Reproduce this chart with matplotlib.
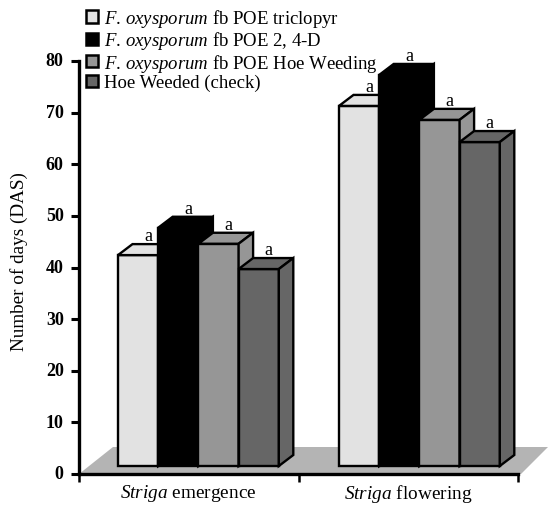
import matplotlib
matplotlib.use("Agg")
import matplotlib.pyplot as plt
from matplotlib.patches import Polygon, Patch
from matplotlib.transforms import ScaledTranslation

plt.rcParams['font.family'] = ['Liberation Serif', 'DejaVu Serif']
plt.rcParams['mathtext.fontset'] = 'custom'
plt.rcParams['mathtext.rm'] = 'Liberation Serif'
plt.rcParams['mathtext.it'] = 'Liberation Serif:italic'

# data
groups = ["$\\mathit{Striga}$ emergence", "$\\mathit{Striga}$ flowering"]
series = [
    "$\\mathit{F.}\\,\\mathit{oxysporum}$ fb POE triclopyr",
    "$\\mathit{F.}\\,\\mathit{oxysporum}$ fb POE 2, 4-D",
    "$\\mathit{F.}\\,\\mathit{oxysporum}$ fb POE Hoe Weeding",
    "Hoe Weeded (check)",
]
emergence = [42.4, 47.7, 44.6, 39.7]
flowering = [71.3, 77.3, 68.6, 64.3]
letters = ["a", "a", "a", "a"]
colors = ["#e2e2e2", "#000000", "#969696", "#666666"]
yticks = [0, 10, 20, 30, 40, 50, 60, 70, 80]

W, H = 548, 506
fig = plt.figure(figsize=(W / 100, H / 100), dpi=100)

# axes box in pixels
left, right, top, bottom = 79, 518, 62, 475
ax = fig.add_axes([left / W, 1 - bottom / H, (right - left) / W, (bottom - top) / H])
ax.set_xlim(0, 2)
ax.set_ylim(0, 80)
ax.patch.set_visible(False)

px = 2 / (right - left)
py = 80 / (bottom - top)
dx = 14.5 * px
dy = 11 * py
base = 8 * py
bar_w = 40.2 * px

# floor
floor = Polygon([(0, 0), (34 * px, 27 * py), (469 * px, 27 * py), (442 * px, 0)],
                closed=True, fc="#b4b4b4", ec="none", clip_on=False, zorder=1)
ax.add_patch(floor)


def draw_bar(x, val, color, z):
    faces = [
        [(x, base), (x + bar_w, base), (x + bar_w, val), (x, val)],
        [(x, val), (x + bar_w, val), (x + bar_w + dx, val + dy), (x + dx, val + dy)],
        [(x + bar_w, base), (x + bar_w + dx, base + dy), (x + bar_w + dx, val + dy), (x + bar_w, val)],
    ]
    for f in faces:
        ax.add_patch(Polygon(f, closed=True, fc=color, ec="black", lw=1.7,
                             joinstyle="miter", clip_on=False, zorder=z))


starts = [39 * px, 260 * px]
z = 2
for start, vals in zip(starts, [emergence, flowering]):
    for i, v in enumerate(vals):
        xb = start + i * bar_w
        draw_bar(xb, v, colors[i], z)
        z += 1
        ax.text(xb + bar_w / 2 + dx * 0.7, v + dy + 4 * py, letters[i], ha="center", va="baseline",
                fontsize=13, zorder=30)

for s in ["top", "right"]:
    ax.spines[s].set_visible(False)
for s in ["left", "bottom"]:
    ax.spines[s].set_linewidth(2.4)
    ax.spines[s].set_zorder(40)

ax.set_yticks(yticks)
ax.set_yticklabels([str(t) for t in yticks], fontsize=13, fontweight="bold")
ax.tick_params(axis="y", length=6, width=2.2, pad=5)
up = ScaledTranslation(0, 2 / 100, fig.dpi_scale_trans)
for lab in ax.get_yticklabels():
    lab.set_transform(lab.get_transform() + up)

ax.set_xticks([0, 1, 2])
ax.set_xticklabels([])
ax.tick_params(axis="x", length=6, width=1.8, direction="out")
ax.set_xticks([0.5, 1.5], minor=True)
ax.set_xticklabels(groups, minor=True, fontsize=13.9)
ax.tick_params(axis="x", which="minor", length=0, pad=6)

ax.set_ylabel("Number of days (DAS)", fontsize=13.8)
ax.yaxis.set_label_coords(-51 / (right - left), (bottom - 262) / (bottom - top))

handles = [Patch(fc=c, ec="black", lw=1.8) for c in colors]
ax.legend(handles, series, loc="upper left", bbox_to_anchor=(86 / W, 1 - 8 / H),
          bbox_transform=fig.transFigure, frameon=False, fontsize=13.5,
          handlelength=0.64, handleheight=0.64, handletextpad=0.3,
          labelspacing=0.02, borderpad=0, borderaxespad=0).set_zorder(50)

fig.savefig("out.png", dpi=100)
